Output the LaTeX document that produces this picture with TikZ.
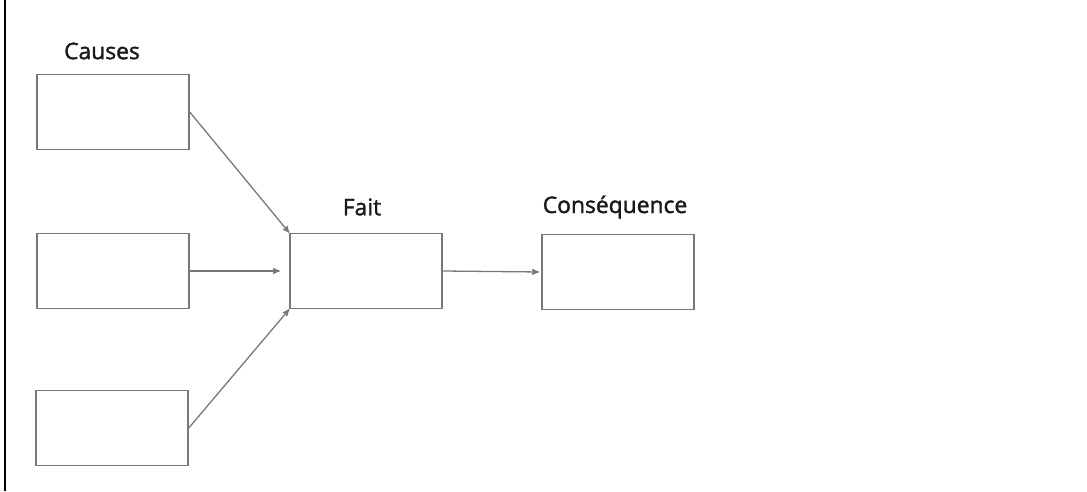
\documentclass[tikz,border=0pt]{standalone}
\usepackage{fontspec}
\setmainfont{Open Sans}
\newfontfamily\titrefont[FakeBold=1.6]{Open Sans}
\usetikzlibrary{shapes,arrows,positioning,calc}
\definecolor{trait}{RGB}{120,120,120}
\tikzset{
  cadre/.style={draw=trait,line width=1.3pt,minimum width=45.6mm,minimum height=22.5mm,inner sep=0pt},
  titre/.style={font=\titrefont\fontsize{19.5}{22}\selectfont,text=black!90},
  fleche/.style={->,>=stealth',draw=trait,line width=1.1pt}
}

\begin{document}
\begin{tikzpicture}[x=0.3mm,y=-0.3mm]
    \useasboundingbox (0,0) rectangle (1087,491);
    \draw[line width=1.5pt] (5,0) -- (5,491);

    \node[titre] (causes) at (102,51) {Causes};
    \node[cadre] (cause1) at (113,112) {};
    \node[cadre] (cause2) at (113,271) {};
    \node[cadre] (cause3) at (112,428) {};

    \node[titre] (faitlab) at (362,207) {Fait};
    \node[cadre] (fait) at (366,271) {};

    \node[titre] (conslab) at (615,207) {Conséquence};
    \node[cadre] (cons) at (618,272) {};

    \draw[fleche] (cause1.east) -- (fait.north west);
    \draw[fleche,shorten >=8pt] (cause2.east) -- (fait.west);
    \draw[fleche] (cause3.east) -- (fait.south west);
    \draw[fleche,shorten >=2pt] (fait.east) -- (cons.west);
\end{tikzpicture}
\end{document}
